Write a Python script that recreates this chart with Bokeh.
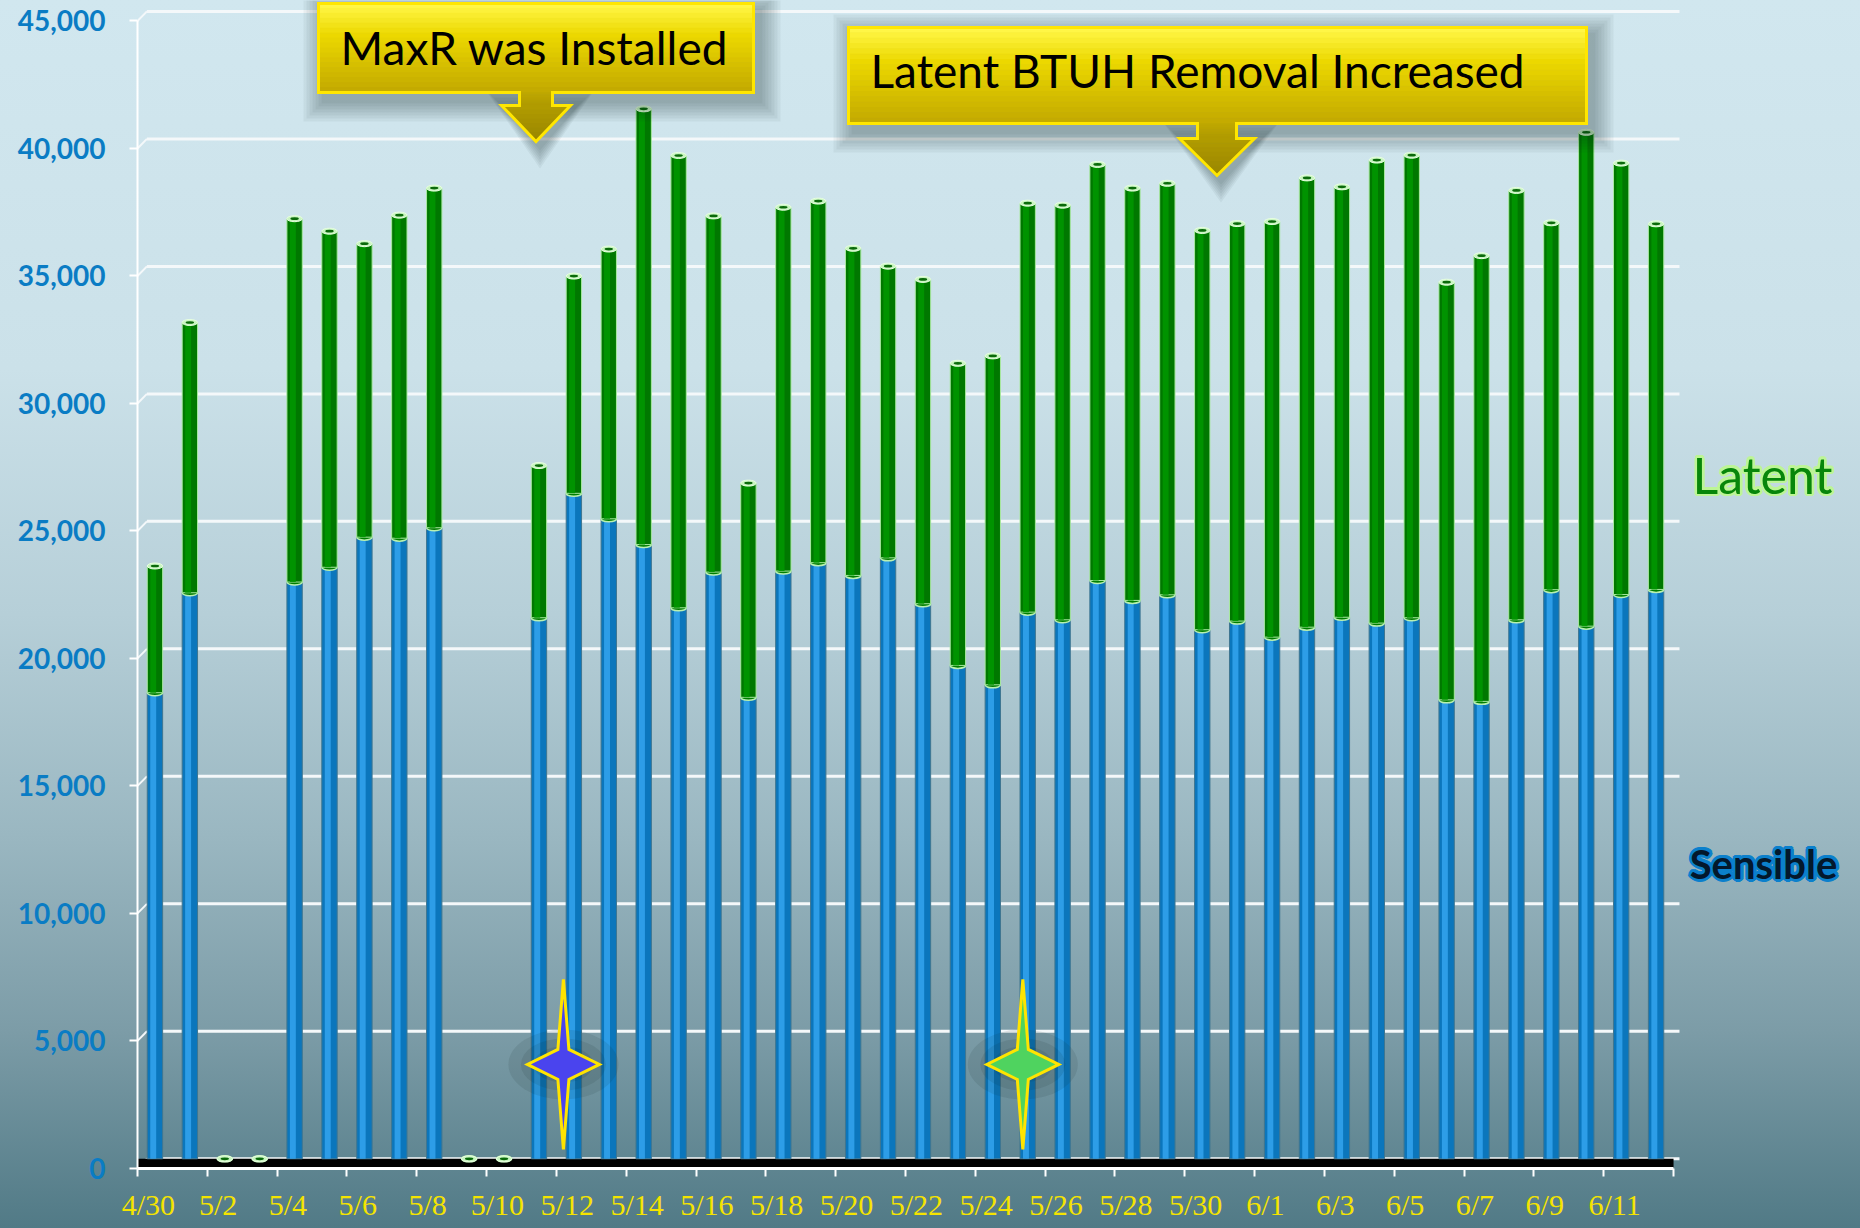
import math
from bokeh.plotting import figure
from bokeh.models import FixedTicker, Range1d, NumeralTickFormatter, LinearAxis
from bokeh.core.properties import value
from bokeh.embed import file_html
from bokeh.resources import INLINE

# ---------------- data ----------------
dates = ["4/30"] + [f"5/{d}" for d in range(1, 32)] + [f"6/{d}" for d in range(1, 13)]
sensible = [18280, 22200, 0, 0, 22620, 23200, 24380, 24340, 24750, 0, 0,
            21220, 26100, 25100, 24090, 21610, 23010, 18100, 23050, 23380, 22880,
            23570, 21770, 19350, 18590, 21440, 21140, 22680, 21900, 22120, 20750,
            21090, 20460, 20850, 21240, 21010, 21220, 18000, 17940, 21140, 22320,
            20890, 22130, 22330]
latent = [4970, 10600, 0, 0, 14250, 13180, 11510, 12670, 13320, 0, 0,
          5970, 8520, 10580, 17090, 17740, 13970, 8400, 14270, 14180, 12830,
          11440, 12720, 11850, 12900, 16040, 16260, 16320, 16170, 16140, 15660,
          15590, 16300, 17620, 16880, 18160, 18140, 16380, 17480, 16840, 14390,
          19370, 16920, 14340]
y_ticks = [0, 5000, 10000, 15000, 20000, 25000, 30000, 35000, 40000, 45000]
label_idx = list(range(0, len(dates), 2))
series_names = ["Latent", "Sensible"]

# event markers (stars) and callouts
star_x = [11.7, 24.86]
star_y = [3700, 3700]
star_fill = ["#4a44ee", "#4fd35f"]
callout_texts = ["MaxR was Installed", "Latent BTUH Removal Increased"]

# ---------------- geometry ----------------
W, H = 1860, 1228
BL, BR, BT, BB = 137, 0, 0, 60
FW, FH = W - BL - BR, H - BT - BB
PX_PER_DAY = 34.91
X0 = -0.5
X1 = X0 + FW / PX_PER_DAY
Y0, Y1 = -380, 45428
FRONT = 375            # 3-D depth offset of the front (axis) plane, in value units
ux = (X1 - X0) / FW
uy = (Y1 - Y0) / FH
X_END = len(dates) - 0.5
DEPTH_X = 0.27


def px_x(page_x):
    return X0 + (page_x - BL) * ux


def px_y(page_y):
    return Y1 - (page_y - BT) * uy


x = list(range(len(dates)))
total = [s + l for s, l in zip(sensible, latent)]

p = figure(width=W, height=H, output_backend="svg", toolbar_location=None,
           x_range=Range1d(X0, X1), y_range=Range1d(Y0, Y1), title=None,
           min_border_left=BL, min_border_right=BR, min_border_top=BT,
           min_border_bottom=BB)
p.background_fill_color = None
p.border_fill_color = None
p.outline_line_color = None
p.styles = {"background-image": "linear-gradient(to bottom, #d1e7ef 0%, #cbe1e9 30%, "
                                "#b6cfd8 50%, #9ab7c1 68%, #7c9ca7 84%, #517a86 100%)"}
p.extra_y_ranges = {"front": Range1d(Y0 + FRONT, Y1 + FRONT)}

# back-wall grid + little diagonal joins to the front axis
p.xgrid.visible = False
p.ygrid.visible = False
n_t = len(y_ticks)
p.segment(x0=[X0 + DEPTH_X] * n_t, x1=[X_END + 0.17] * n_t, y0=y_ticks, y1=y_ticks,
          line_color="#f4f8fa", line_width=3)
p.segment(x0=[X0] * n_t, x1=[X0 + DEPTH_X] * n_t, y0=[v - FRONT for v in y_ticks],
          y1=y_ticks, line_color="#f4f8fa", line_width=2)

# y axis (front plane)
p.yaxis.visible = False
yax = LinearAxis(y_range_name="front", ticker=FixedTicker(ticks=y_ticks),
                 formatter=NumeralTickFormatter(format="0,0"), bounds=(0, 45000))
yax.axis_line_color = "white"
yax.axis_line_width = 2
yax.major_tick_line_color = "white"
yax.major_tick_line_width = 2
yax.major_tick_out = 8
yax.major_tick_in = 0
yax.minor_tick_line_color = None
yax.major_label_standoff = 24
yax.major_label_text_font = "Lato"
yax.major_label_text_font_style = "bold"
yax.major_label_text_font_size = "28px"
yax.major_label_text_color = "#0a7cc4"
p.add_layout(yax, "left")

# x axis
lab_pos = [i - 0.19 for i in label_idx]
p.xaxis.ticker = FixedTicker(ticks=lab_pos,
                             minor_ticks=[i - 0.5 for i in label_idx] + [X_END])
p.xaxis.major_label_overrides = {lp: dates[i] for lp, i in zip(lab_pos, label_idx)}
p.xaxis.bounds = (X0, X_END)
p.xaxis.axis_line_color = "white"
p.xaxis.axis_line_width = 3
p.xaxis.major_tick_line_color = None
p.xaxis.major_tick_out = 0
p.xaxis.major_tick_in = 0
p.xaxis.minor_tick_line_color = "white"
p.xaxis.minor_tick_line_width = 2
p.xaxis.minor_tick_out = 8
p.xaxis.minor_tick_in = 0
p.xaxis.major_label_standoff = 11
p.xaxis.major_label_text_font = "Liberation Sans Narrow"
p.xaxis.major_label_text_font_size = "30px"
p.xaxis.major_label_text_color = "#f5e400"

# floor
p.quad(left=[X0], right=[X_END], bottom=[Y0], top=[0], fill_color="black", line_color=None)

BW = 0.44
CAP_H = 6 * uy
# sensible (blue cylinders)
p.vbar(x=x, bottom=0, top=sensible, width=BW, fill_color="#0b76bc",
       line_color="#3f7690", line_width=1)
p.vbar(x=[v - 0.05 for v in x], bottom=0, top=sensible, width=0.17,
       fill_color="#34a5ee", line_color=None, fill_alpha=0.85)
# boundary rim
p.ellipse(x=x, y=sensible, width=BW, height=CAP_H, fill_color="#007d00",
          line_color="#b8f0b0", line_width=1.5)
# latent (green cylinders)
p.vbar(x=x, bottom=sensible, top=total, width=BW, fill_color="#007800",
       line_color="#a8e8a0", line_width=1)
p.vbar(x=[v - 0.05 for v in x], bottom=sensible, top=total, width=0.17,
       fill_color="#009600", line_color=None, fill_alpha=0.9)
# top caps
p.ellipse(x=x, y=total, width=BW, height=CAP_H, fill_color="#c8f5c0",
          line_color="#e8ffe0", line_width=1)
p.ellipse(x=x, y=total, width=BW * 0.55, height=CAP_H * 0.45, fill_color="#0a6a0a",
          line_color=None)


# ---------------- callouts ----------------
def hex2rgb(h):
    h = h.lstrip("#")
    return tuple(int(h[i:i + 2], 16) for i in (0, 2, 4))


def mix(c1, c2, t):
    a, b = hex2rgb(c1), hex2rgb(c2)
    return "#%02x%02x%02x" % tuple(round(a[i] + (b[i] - a[i]) * t) for i in range(3))


def grad(stops, t):
    for (t0, c0), (t1, c1) in zip(stops, stops[1:]):
        if t <= t1:
            return mix(c0, c1, (t - t0) / (t1 - t0))
    return stops[-1][1]


box_stops = [(0, "#fff646"), (0.35, "#ecd800"), (1, "#c4ab00")]
arrow_stops = [(0, "#bfa800"), (1, "#9a8700")]

callouts = [
    dict(text=callout_texts[0], box=(318, 753, 3, 92), stem=(519, 552),
         head=(501, 570, 105), tip=(535.5, 141), tpos=(340, 47)),
    dict(text=callout_texts[1], box=(848, 1586, 27, 123), stem=(1197, 1236),
         head=(1179, 1254, 138), tip=(1216.5, 175), tpos=(870, 70)),
]

for c in callouts:
    bx0, bx1, by0, by1 = c["box"]
    sx0, sx1 = c["stem"]
    hx0, hx1, hy = c["head"]
    tx, ty = c["tip"]
    # soft shadow
    for k in range(1, 8):
        e = 3 * k
        p.quad(left=[px_x(bx0 - e + 6)], right=[px_x(bx1 + e + 6)],
               top=[px_y(by0 - e + 8)], bottom=[px_y(by1 + e + 8)],
               fill_color="#1a262c", fill_alpha=0.05, line_color=None)
        p.patch([px_x(hx0 - e + 4), px_x(hx1 + e + 4), px_x(tx + 4)],
                [px_y(hy - e + 4), px_y(hy - e + 4), px_y(ty + e + 6)],
                fill_color="#1a262c", fill_alpha=0.05, line_color=None)
    # box gradient
    n = 18
    for i in range(n):
        col = grad(box_stops, i / (n - 1))
        y_a = by0 + (by1 - by0) * i / n
        y_b = by0 + (by1 - by0) * (i + 1) / n
        p.quad(left=[px_x(bx0)], right=[px_x(bx1)], top=[px_y(y_a)], bottom=[px_y(y_b)],
               fill_color=col, line_color=col, line_width=1)
    # arrow
    n = 8
    for i in range(n):
        col = grad(arrow_stops, i / (n - 1) * 0.4)
        y_a = by1 + (hy - by1) * i / n
        y_b = by1 + (hy - by1) * (i + 1) / n
        p.quad(left=[px_x(sx0)], right=[px_x(sx1)], top=[px_y(y_a)], bottom=[px_y(y_b)],
               fill_color=col, line_color=col, line_width=1)
    for i in range(n):
        t0 = i / n
        t1 = (i + 1) / n
        col = grad(arrow_stops, 0.4 + 0.6 * i / (n - 1))
        ya = hy + (ty - hy) * t0
        yb = hy + (ty - hy) * t1
        p.patch([px_x(hx0 + (tx - hx0) * t0), px_x(hx1 + (tx - hx1) * t0),
                 px_x(hx1 + (tx - hx1) * t1), px_x(hx0 + (tx - hx0) * t1)],
                [px_y(ya), px_y(ya), px_y(yb), px_y(yb)],
                fill_color=col, line_color=col, line_width=1)
    # outline
    ox = [bx0, bx1, bx1, sx1, sx1, hx1, tx, hx0, sx0, sx0, bx0]
    oy = [by0, by0, by1, by1, hy, hy, ty, hy, hy, by1, by1]
    p.patch([px_x(v) for v in ox], [px_y(v) for v in oy], fill_color=None,
            line_color="#ffe600", line_width=3, line_join="miter")
    p.text(x=[px_x(c["tpos"][0])], y=[px_y(c["tpos"][1])], text=[c["text"]],
           text_font=value("Lato"), text_font_size="46px", text_color="black",
           text_baseline="middle", text_align="left")

# ---------------- stars ----------------
star_shape = [(0, -85), (5.5, -15), (36, 0), (5.5, 15), (0, 85), (-5.5, 15), (-36, 0), (-5.5, -15)]
for sx, sy, fc in zip(star_x, star_y, star_fill):
    for ew, eh in [(110, 70), (85, 52), (60, 36)]:
        p.ellipse(x=[sx], y=[sy], width=ew, height=eh, width_units="screen",
                  height_units="screen", fill_color="#16242a", fill_alpha=0.1,
                  line_color=None)
    p.patch([sx + ox * ux for ox, oy in star_shape], [sy - oy * uy for ox, oy in star_shape],
            fill_color=fc, line_color="#ffe400", line_width=3, line_join="miter")


# ---------------- series labels (with glow) ----------------
def glow_text(page_x, page_y, txt, size, color, glow, style, r):
    gx, gy = [], []
    for a in range(0, 360, 30):
        gx.append(px_x(page_x + r * math.cos(math.radians(a))))
        gy.append(px_y(page_y + r * math.sin(math.radians(a))))
    p.text(x=gx, y=gy, text=[txt] * len(gx), text_font=value("Lato"),
           text_font_style=style, text_font_size=size, text_color=glow,
           text_align="center", text_baseline="middle")
    p.text(x=[px_x(page_x)], y=[px_y(page_y)], text=[txt], text_font=value("Lato"),
           text_font_style=style, text_font_size=size, text_color=color,
           text_align="center", text_baseline="middle")


glow_text(1762, 474, series_names[0], "50px", "#07860a", "#bdf596", "normal", 2.5)
glow_text(1763, 863, series_names[1], "40px", "#03182c", "#0b80cc", "bold", 3)

open("out.html", "w").write(file_html(p, INLINE))
